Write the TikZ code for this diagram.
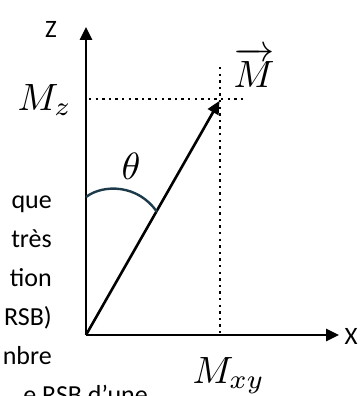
\documentclass[tikz,border=0pt]{standalone}
\usepackage{amsmath}
\usepackage{graphicx}
\usepackage{fontspec}
\newfontfamily\bodyfont{Carlito}
\usepackage{tikz}
\usetikzlibrary{arrows.meta}
\definecolor{arcblue}{RGB}{28,58,74}

% labels are set at normal size and scaled up
\newcommand{\mlbl}[1]{\scalebox{3.8}{$#1$}}
\newcommand{\albl}[1]{\scalebox{2.5}{\bodyfont #1}}
\newcommand{\pgline}[1]{\scalebox{2.6}{\bodyfont #1}}

\tikzset{
  axis/.style={line width=2.6pt, -{Triangle[length=13pt,width=12pt]}},
  guide/.style={line width=2.4pt, dash pattern=on 2.4pt off 4.2pt},
  bodytext/.style={anchor=base east, inner sep=0pt}
}

\begin{document}
\begin{tikzpicture}[x=1pt, y=-1pt]
    \useasboundingbox (0,0) rectangle (360,396);
    \clip (0,0) rectangle (360,396);

    \coordinate (O) at (86,335);
    \coordinate (zend) at (86,27);
    \coordinate (xend) at (339,335);
    \coordinate (M) at (220,100);
    \coordinate (mz) at (89,99);
    \coordinate (mzend) at (245,99);
    \coordinate (mtop) at (220,67);
    \coordinate (mxy) at (220,333);
    \coordinate (th1) at (86,197);
    \coordinate (th2) at (157,212);

    % axes and vector
    \draw[axis] (O) -- (zend);
    \draw[axis] (O) -- (xend);
    \draw[axis, shorten >=1pt] (O) -- (M);

    % projections
    \draw[guide] (mz) -- (mzend);
    \draw[guide] (mtop) -- (mxy);

    % angle
    \draw[arcblue, line width=2.4pt] (th1) .. controls (103,184) and (138,184) .. (th2);

    \node (zlab) at (51,29) {\albl{Z}};
    \node[anchor=west] (xlab) at (341,336) {\albl{X}};
    \node[anchor=base west] (mzlab) at (14,110) {\mlbl{M_z}};
    \node[anchor=base west] (mvec) at (230,87) {\mlbl{\overrightarrow{M}}};
    \node (theta) at (131,166) {\mlbl{\theta}};
    \node[anchor=base west] (mxylab) at (189,383) {\mlbl{M_{xy}}};

    % text of the page around the figure
    \node[bodytext] (l1) at (52,208) {\pgline{que}};
    \node[bodytext] (l2) at (52,247) {\pgline{très}};
    \node[bodytext] (l3) at (52,286) {\pgline{tion}};
    \node[bodytext] (l4) at (52,325) {\pgline{RSB)}};
    \node[bodytext] (l5) at (52,364) {\pgline{nbre}};
    \node[bodytext] (l6) at (148,403) {\pgline{e RSB d’une}};
\end{tikzpicture}
\end{document}
